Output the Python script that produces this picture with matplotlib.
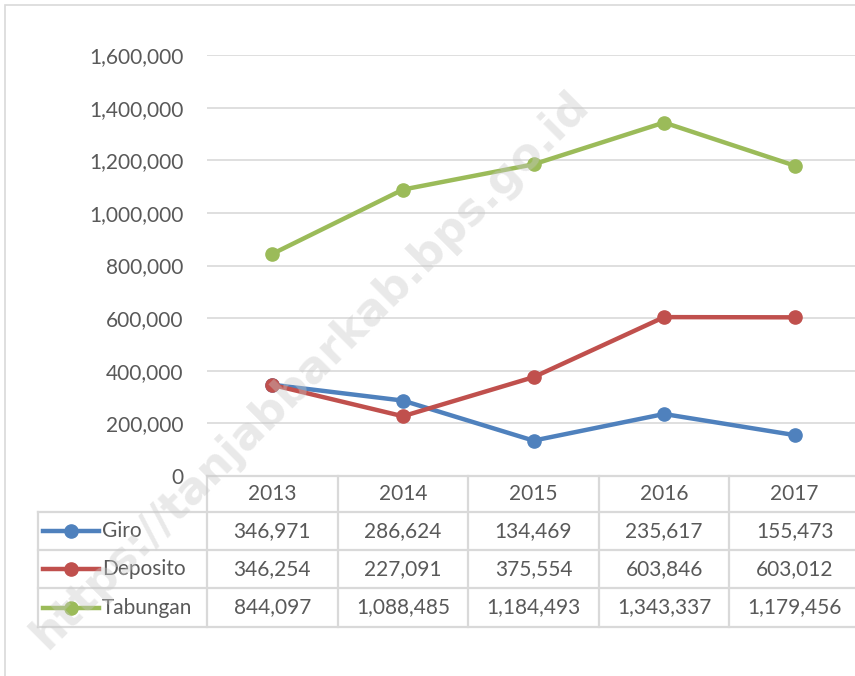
import matplotlib.pyplot as plt
from matplotlib.lines import Line2D
from matplotlib.patches import Rectangle

# Data
years = ['2013', '2014', '2015', '2016', '2017']
giro = [346971, 286624, 134469, 235617, 155473]
deposito = [346254, 227091, 375554, 603846, 603012]
tabungan = [844097, 1088485, 1184493, 1343337, 1179456]
series_names = ['Giro', 'Deposito', 'Tabungan']
series_colors = ['#4F81BD', '#C0504D', '#9BBB59']
yticks = [0, 200000, 400000, 600000, 800000, 1000000, 1200000, 1400000, 1600000]

W, H = 855, 676
plt.rcParams['font.family'] = ['Lato', 'DejaVu Sans']
txt = '#595959'
grid = '#D9D9D9'
fs = 15

fig = plt.figure(figsize=(W / 100, H / 100), dpi=100)


def fx(px):
    return px / W


def fy(py):
    return 1 - py / H


# outer chart frame
fig.patches.append(Rectangle((fx(5), fy(700)), fx(900), 695 / H, transform=fig.transFigure,
                             fill=False, edgecolor=grid, linewidth=1.2))

# plot area
col_w = 130.6
left = 207
ax = fig.add_axes([fx(left), fy(476), fx(5 * col_w), (476 - 55) / H])
x = range(len(years))
for vals, c in zip([giro, deposito, tabungan], series_colors):
    ax.plot(x, vals, color=c, linewidth=3.2, marker='o', markersize=9.5, zorder=3)
ax.set_xlim(-0.5, 4.5)
ax.set_ylim(0, 1600000)
ax.set_yticks(yticks)
ax.set_yticklabels([f'{v:,}' for v in yticks], color=txt, fontsize=fs)
ax.tick_params(axis='y', length=0, pad=17)
ax.set_xticks([])
ax.grid(axis='y', color=grid, linewidth=1.2)
ax.set_axisbelow(True)
for s in ax.spines.values():
    s.set_visible(False)

# data table
bounds = [left + i * col_w for i in range(6)]
rows_y = [476, 512, 550, 588, 627]
lc = '#D9D9D9'
lw = 1.6
fig.add_artist(Line2D([fx(left), fx(900)], [fy(476), fy(476)], color=lc, lw=lw))
for yy in rows_y[1:]:
    fig.add_artist(Line2D([fx(38), fx(900)], [fy(yy), fy(yy)], color=lc, lw=lw))
for b in bounds:
    fig.add_artist(Line2D([fx(b), fx(b)], [fy(476), fy(627)], color=lc, lw=lw))
fig.add_artist(Line2D([fx(38), fx(38)], [fy(512), fy(627)], color=lc, lw=lw))

for i, yr in enumerate(years):
    cx = (bounds[i] + bounds[i + 1]) / 2
    fig.text(fx(cx), fy(494), yr, ha='center', va='center', color=txt, fontsize=fs)

for r, (name, vals, c) in enumerate(zip(series_names, [giro, deposito, tabungan], series_colors)):
    cy = (rows_y[r + 1] + rows_y[r + 2]) / 2
    fig.add_artist(Line2D([fx(43), fx(99)], [fy(cy), fy(cy)], color=c, lw=3.2))
    fig.add_artist(Line2D([fx(71)], [fy(cy)], color=c, marker='o', markersize=9.5))
    fig.text(fx(102), fy(cy), name, ha='left', va='center', color=txt, fontsize=fs)
    for i, v in enumerate(vals):
        cx = (bounds[i] + bounds[i + 1]) / 2
        fig.text(fx(cx), fy(cy), f'{v:,}', ha='center', va='center', color=txt, fontsize=fs)

# watermark
fig.text(fx(310), fy(370), 'https://tanjabbarkab.bps.go.id', rotation=45,
         ha='center', va='center', fontsize=32, fontweight='bold',
         color='#C8C8C8', alpha=0.4, family='DejaVu Sans', zorder=10)

fig.savefig('out.png', dpi=100)
